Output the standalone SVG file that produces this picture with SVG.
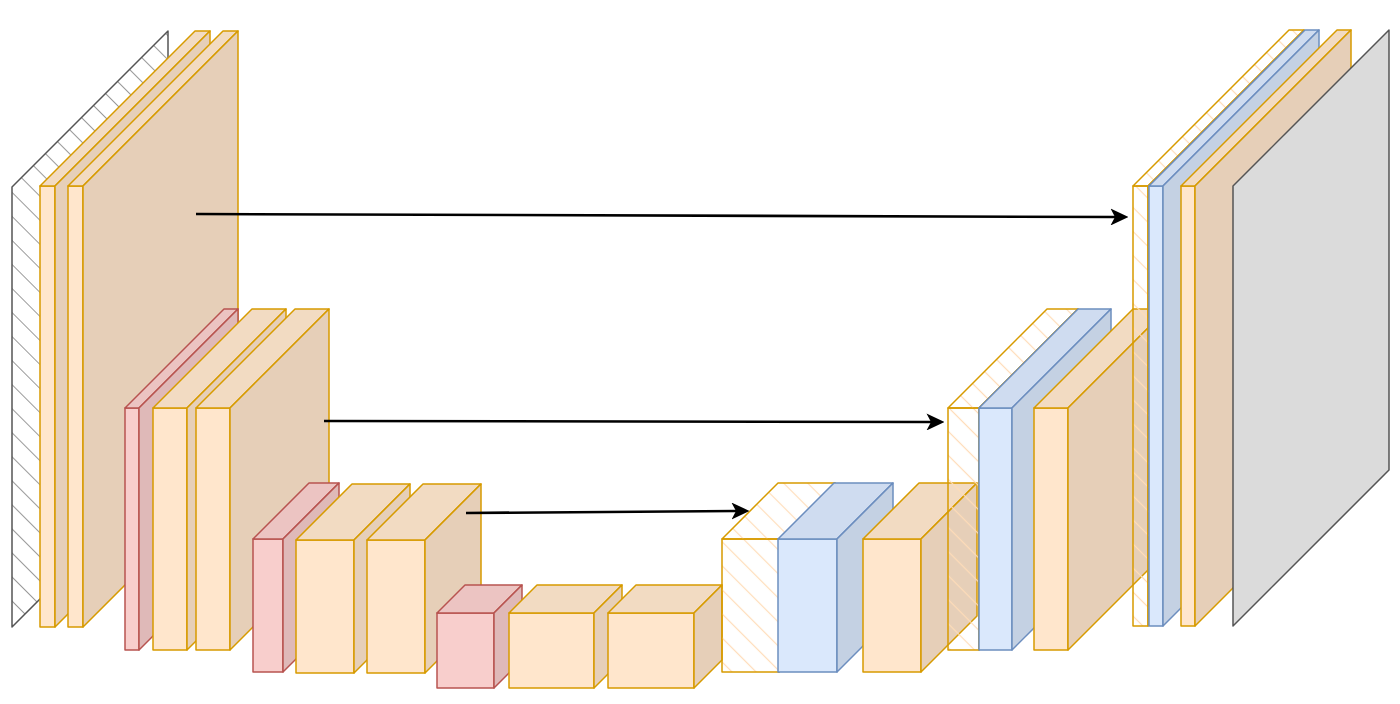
<svg xmlns="http://www.w3.org/2000/svg" width="1400" height="704" viewBox="0 0 1400 704">
<style>
.o .f{fill:#ffe6cc}.o .t{fill:#f2dbc2}.o .s{fill:#e6cfb8}
.o path,.o rect{stroke:#d79b00;stroke-width:1.5;stroke-linejoin:round}
.r .f{fill:#f8cecc}.r .t{fill:#ecc4c2}.r .s{fill:#dfb9b8}
.r path,.r rect{stroke:#b85450;stroke-width:1.5;stroke-linejoin:round}
.b .f{fill:#dae8fc}.b .t{fill:#cfdcf0}.b .s{fill:#c4d1e3}
.b path,.b rect{stroke:#6c8ebf;stroke-width:1.5;stroke-linejoin:round}
.h path,.h rect{fill:url(#hatchO);stroke:#d79b00;stroke-width:1.5;stroke-linejoin:round}
.gin path{fill:url(#hatchG);stroke:#555555;stroke-width:1.5;stroke-linejoin:round}
.gout path{fill:#dbdbdb;stroke:#555555;stroke-width:1.5;stroke-linejoin:round}
.conn path{fill:none;stroke:#000000;stroke-width:2.6;marker-end:url(#arrow)}
</style>
<defs>
<pattern id="hatchG" patternUnits="userSpaceOnUse" width="17" height="17" patternTransform="rotate(-45)"><line x1="8.5" y1="0" x2="8.5" y2="17" stroke="#9a9a9a" stroke-width="1"/></pattern>
<pattern id="hatchO" patternUnits="userSpaceOnUse" width="17" height="17" patternTransform="rotate(-45)"><line x1="8.5" y1="0" x2="8.5" y2="17" stroke="#ffdcb8" stroke-width="1.2"/></pattern>
<marker id="arrow" markerUnits="userSpaceOnUse" markerWidth="18" markerHeight="17" viewBox="0 0 18 17" refX="4.5" refY="8.5" orient="auto"><path d="M0,0 L18,8.5 L0,17 L4.5,8.5 Z" fill="#000000"/></marker>
</defs>
<rect x="0" y="0" width="1400" height="704" fill="#ffffff"/>

<g id="input" class="gin"><path d="M12,187 L168,31 L168,471 L12,627 Z"/></g>

<g id="enc1a" class="o"><rect class="f" x="40" y="186" width="15" height="441"/><path class="t" d="M40,186 L195,31 L210,31 L55,186 Z"/><path class="s" d="M55,186 L210,31 L210,472 L55,627 Z"/></g>
<g id="enc1b" class="o"><rect class="f" x="68" y="186" width="15" height="441"/><path class="t" d="M68,186 L223,31 L238,31 L83,186 Z"/><path class="s" d="M83,186 L238,31 L238,472 L83,627 Z"/></g>

<g id="pool1" class="r"><rect class="f" x="125" y="408" width="14" height="242"/><path class="t" d="M125,408 L224,309 L238,309 L139,408 Z"/><path class="s" d="M139,408 L238,309 L238,551 L139,650 Z"/></g>
<g id="enc2a" class="o"><rect class="f" x="153" y="408" width="34" height="242"/><path class="t" d="M153,408 L252,309 L286,309 L187,408 Z"/><path class="s" d="M187,408 L286,309 L286,551 L187,650 Z"/></g>
<g id="enc2b" class="o"><rect class="f" x="196" y="408" width="34" height="242"/><path class="t" d="M196,408 L295,309 L329,309 L230,408 Z"/><path class="s" d="M230,408 L329,309 L329,551 L230,650 Z"/></g>

<g id="pool2" class="r"><rect class="f" x="253" y="539" width="30" height="133"/><path class="t" d="M253,539 L309,483 L339,483 L283,539 Z"/><path class="s" d="M283,539 L339,483 L339,616 L283,672 Z"/></g>
<g id="enc3a" class="o"><rect class="f" x="296" y="540" width="58" height="133"/><path class="t" d="M296,540 L352,484 L410,484 L354,540 Z"/><path class="s" d="M354,540 L410,484 L410,617 L354,673 Z"/></g>
<g id="enc3b" class="o"><rect class="f" x="367" y="540" width="58" height="133"/><path class="t" d="M367,540 L423,484 L481,484 L425,540 Z"/><path class="s" d="M425,540 L481,484 L481,617 L425,673 Z"/></g>

<g id="pool3" class="r"><rect class="f" x="437" y="613" width="57" height="75"/><path class="t" d="M437,613 L465,585 L522,585 L494,613 Z"/><path class="s" d="M494,613 L522,585 L522,660 L494,688 Z"/></g>
<g id="bottleneck1" class="o"><rect class="f" x="509" y="613" width="85" height="75"/><path class="t" d="M509,613 L537,585 L622,585 L594,613 Z"/><path class="s" d="M594,613 L622,585 L622,660 L594,688 Z"/></g>
<g id="bottleneck2" class="o"><rect class="f" x="608" y="613" width="86" height="75"/><path class="t" d="M608,613 L636,585 L722,585 L694,613 Z"/><path class="s" d="M694,613 L722,585 L722,660 L694,688 Z"/></g>

<g id="skip3" class="h"><rect x="722" y="539" width="57" height="133"/><path d="M722,539 L778,483 L835,483 L779,539 Z"/><path d="M779,539 L835,483 L835,616 L779,672 Z"/></g>
<g id="up3" class="b"><rect class="f" x="778" y="539" width="59" height="133"/><path class="t" d="M778,539 L834,483 L893,483 L837,539 Z"/><path class="s" d="M837,539 L893,483 L893,616 L837,672 Z"/></g>
<g id="dec3" class="o"><rect class="f" x="863" y="539" width="58" height="133"/><path class="t" d="M863,539 L919,483 L977,483 L921,539 Z"/><path class="s" d="M921,539 L977,483 L977,616 L921,672 Z"/></g>

<g id="skip2" class="h"><rect x="948" y="408" width="31" height="242"/><path d="M948,408 L1047,309 L1078,309 L979,408 Z"/><path d="M979,408 L1078,309 L1078,551 L979,650 Z"/></g>
<g id="up2" class="b"><rect class="f" x="979" y="408" width="33" height="242"/><path class="t" d="M979,408 L1078,309 L1111,309 L1012,408 Z"/><path class="s" d="M1012,408 L1111,309 L1111,551 L1012,650 Z"/></g>
<g id="dec2" class="o"><rect class="f" x="1034" y="408" width="34" height="242"/><path class="t" d="M1034,408 L1133,309 L1167,309 L1068,408 Z"/><path class="s" d="M1068,408 L1167,309 L1167,551 L1068,650 Z"/></g>

<g id="skip1" class="h"><rect x="1133" y="186" width="15" height="440"/><path d="M1133,186 L1289,30 L1304,30 L1148,186 Z"/><path d="M1148,186 L1304,30 L1304,470 L1148,626 Z"/></g>
<g id="up1" class="b"><rect class="f" x="1149" y="186" width="14" height="440"/><path class="t" d="M1149,186 L1305,30 L1319,30 L1163,186 Z"/><path class="s" d="M1163,186 L1319,30 L1319,470 L1163,626 Z"/></g>
<g id="dec1" class="o"><rect class="f" x="1181" y="186" width="14" height="440"/><path class="t" d="M1181,186 L1337,30 L1351,30 L1195,186 Z"/><path class="s" d="M1195,186 L1351,30 L1351,470 L1195,626 Z"/></g>

<g id="output" class="gout"><path d="M1233,186 L1389,30 L1389,470 L1233,626 Z"/></g>

<g id="connectors" class="conn">
<path d="M196,214 L1115,217"/>
<path d="M324,421 L931,422"/>
<path d="M466,513 L736,511"/>
</g>
</svg>
